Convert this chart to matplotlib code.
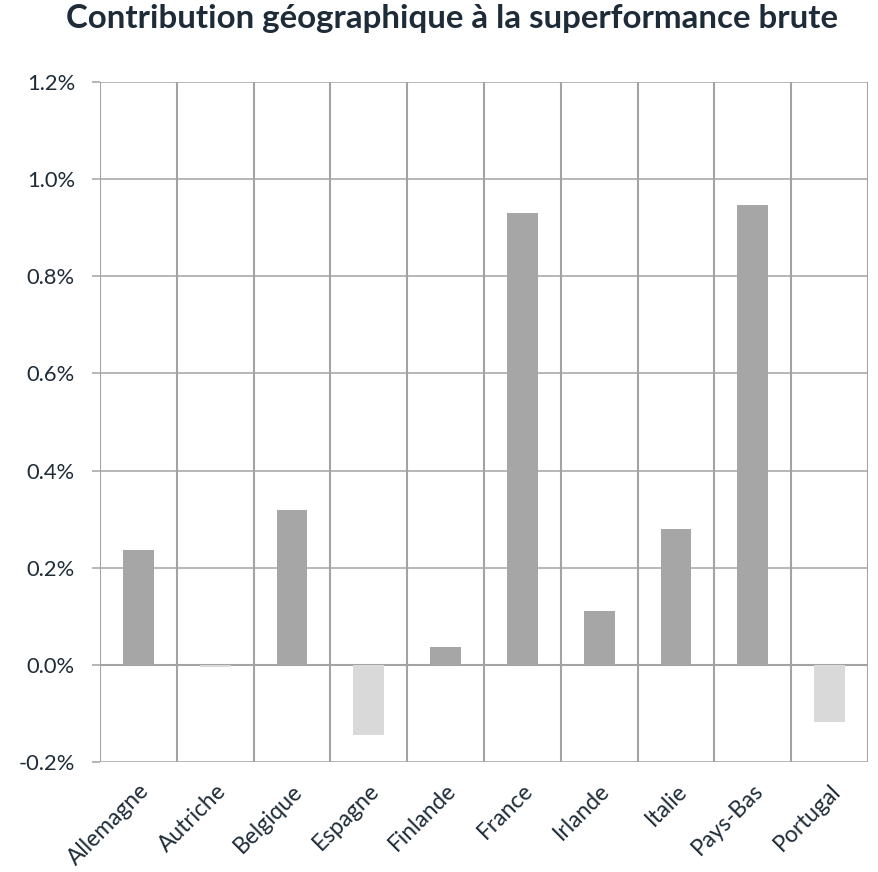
import matplotlib
matplotlib.use("Agg")
import matplotlib.pyplot as plt
import numpy as np
from matplotlib.ticker import FuncFormatter, MultipleLocator

categories = ["Allemagne", "Autriche", "Belgique", "Espagne", "Finlande",
              "France", "Irlande", "Italie", "Pays-Bas", "Portugal"]
values = [0.237, -0.005, 0.318, -0.144, 0.036, 0.931, 0.110, 0.280, 0.947, -0.117]
title = "Contribution géographique à la superformance brute"

text_color = "#1e2b38"
grid_color = "#a3a3a3"
pos_color = "#a6a6a6"
neg_color = "#d9d9d9"

plt.rcParams['font.family'] = ['Lato', 'DejaVu Sans']

fig = plt.figure(figsize=(8.79, 8.72), dpi=100)
renderer = fig.canvas.get_renderer()


def fit_size(s, target_px, base=12.0, weight='normal'):
    t = fig.text(0, 0, s, fontsize=base, fontweight=weight)
    w = t.get_window_extent(renderer).width
    t.remove()
    return base * target_px / w


title_fs = fit_size(title, 769, weight='bold')
ylab_fs = fit_size("0.0%", 48)
xlab_fs = fit_size("Allemagne", 105)

ax = fig.add_axes([100/879, 1-762/872, 768/879, 680/872])

x = np.arange(len(categories))
colors = [pos_color if v >= 0 else neg_color for v in values]
ax.bar(x, values, width=0.4, color=colors, zorder=3)

ax.set_xlim(-0.5, len(categories) - 0.5)
ax.set_ylim(-0.2, 1.2)
ax.yaxis.set_major_locator(MultipleLocator(0.2))
ax.yaxis.set_major_formatter(FuncFormatter(lambda v, p: f"{v:.1f}%"))

ax.grid(axis='y', color=grid_color, linewidth=1.1, zorder=0)
for b in np.arange(-0.5, len(categories) + 0.5, 1.0):
    ax.axvline(b, color=grid_color, linewidth=1.5, zorder=1)
ax.axhline(0, color=grid_color, linewidth=1.5, zorder=2)

for s in ax.spines.values():
    s.set_visible(False)

ax.set_xticks(x)
ax.set_xticklabels(categories, rotation=45, ha='right', va='top',
                   rotation_mode='anchor', fontsize=xlab_fs, color=text_color)
ax.tick_params(axis='x', length=0, pad=13)
ax.tick_params(axis='y', length=6, color=grid_color, width=1.1, labelsize=ylab_fs,
               labelcolor=text_color, pad=12)

fig.text(452/879, 1-28/872, title, ha='center', va='baseline', fontsize=title_fs,
         fontweight='bold', color=text_color)

fig.savefig("out.png", dpi=100, facecolor='white')
